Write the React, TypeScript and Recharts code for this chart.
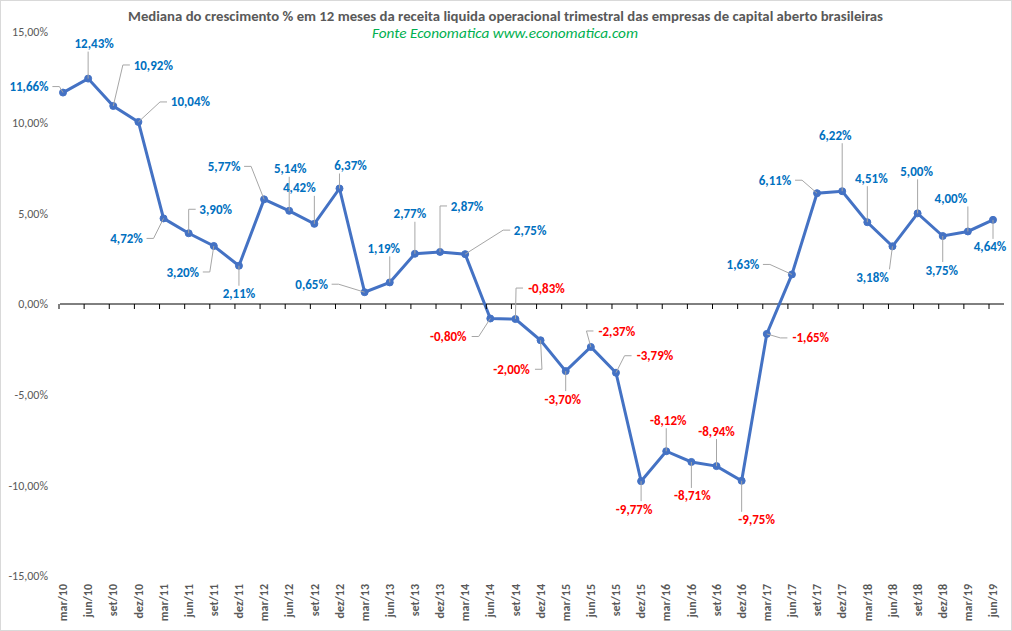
import { LineChart, Line, XAxis, YAxis, ReferenceLine } from 'recharts';

const categories = [
  'mar/10', 'jun/10', 'set/10', 'dez/10',
  'mar/11', 'jun/11', 'set/11', 'dez/11',
  'mar/12', 'jun/12', 'set/12', 'dez/12',
  'mar/13', 'jun/13', 'set/13', 'dez/13',
  'mar/14', 'jun/14', 'set/14', 'dez/14',
  'mar/15', 'jun/15', 'set/15', 'dez/15',
  'mar/16', 'jun/16', 'set/16', 'dez/16',
  'mar/17', 'jun/17', 'set/17', 'dez/17',
  'mar/18', 'jun/18', 'set/18', 'dez/18',
  'mar/19', 'jun/19',
];

const mediana = [
  11.66, 12.43, 10.92, 10.04,
  4.72, 3.9, 3.2, 2.11,
  5.77, 5.14, 4.42, 6.37,
  0.65, 1.19, 2.77, 2.87,
  2.75, -0.8, -0.83, -2.0,
  -3.7, -2.37, -3.79, -9.77,
  -8.12, -8.71, -8.94, -9.75,
  -1.65, 1.63, 6.11, 6.22,
  4.51, 3.18, 5.0, 3.75,
  4.0, 4.64,
];

const yTicks = [-15, -10, -5, 0, 5, 10, 15];

// where each data label sits relative to its point (px), like the moved labels in the original
const labelOffsets: [number, number][] = [
  [-34, -6], [6, -35], [40, -41], [52, -20],
  [-37, 20], [27, -24], [-31, 26], [0, 28],
  [-40, -33], [1, -42], [-15, -36], [11, -23],
  [-53, -8], [-6, -34], [-5, -40], [27, -46],
  [65, -24], [-42, 18], [31, -31], [-29, 29],
  [-3, 28], [26, -16], [39, -17], [-7, 28],
  [2, -31], [1, 34], [0, -35], [15, 39],
  [44, 4], [-49, -10], [-42, -13], [-7, -56],
  [4, -44], [-20, 31], [-1, -42], [-1, 34],
  [-17, -33], [-3, 27],
];

const data = categories.map((c, i) => ({ cat: c, v: mediana[i] }));

const W = 1012;
const H = 631;
const TOP = 32;
const XAXIS_H = 55;
const ZERO_Y = TOP + (H - XAXIS_H - TOP) / 2;
const FONT = 'Carlito, Calibri, "Liberation Sans Narrow", "Liberation Sans", sans-serif';

const pct = (v: number) => v.toFixed(2).replace('.', ',') + '%';

const CatTick = (props: any) => {
  const { x, payload } = props;
  return (
    <g>
      <line x1={x - 4} x2={x - 4} y1={ZERO_Y} y2={ZERO_Y + 5} stroke='#000' strokeWidth={1} />
      <text
        x={x}
        y={584}
        transform={`rotate(-90, ${x}, 584)`}
        textAnchor='end'
        dy='0.35em'
        fontFamily={FONT}
        fontWeight='bold'
        fontSize={12}
        fill='#595959'
      >
        {payload.value}
      </text>
    </g>
  );
};

const renderLabel = (props: any) => {
  const { x, y, index, value } = props;
  const [dx, dy] = labelOffsets[index];
  const cx = x + dx;
  const cy = y + dy;
  const text = pct(value);
  const halfW = text.length * 3.4;
  const halfH = 7;
  let d = '';
  if (Math.abs(dx) > halfW + 4) {
    const side = dx > 0 ? -1 : 1;
    const ex = cx + side * (halfW + 3);
    const elbow = ex + side * 7;
    d = `M${x},${y}L${elbow},${cy}L${ex},${cy}`;
  } else if (Math.abs(dy) > halfH + 6) {
    const ey = dy > 0 ? cy - halfH - 1 : cy + halfH + 1;
    const ex = Math.max(cx - halfW, Math.min(cx + halfW, x));
    d = `M${x},${y}L${ex},${ey}`;
  }
  return (
    <g key={`lbl-${index}`}>
      {d && <path d={d} stroke='#A6A6A6' strokeWidth={1} fill='none' />}
      <text
        x={cx}
        y={cy}
        dy='0.35em'
        textAnchor='middle'
        fontFamily={FONT}
        fontWeight='bold'
        fontSize={13}
        fill={value < 0 ? '#FF0000' : '#0070C0'}
      >
        {text}
      </text>
    </g>
  );
};

export default function App() {
  return (
    <div style={{ position: 'absolute', left: 0, top: 0, width: W, height: H, background: '#fff' }}>
      <LineChart width={W} height={H} data={data} margin={{ top: TOP, right: 8, left: 0, bottom: 0 }}>
        <XAxis
          dataKey='cat'
          height={XAXIS_H}
          axisLine={false}
          tickLine={false}
          interval={0}
          padding={{ left: 3, right: 11 }}
          tick={<CatTick />}
        />
        <YAxis
          width={60}
          domain={[-15, 15]}
          ticks={yTicks}
          axisLine={false}
          tickLine={false}
          tickSize={0}
          tickMargin={12}
          tickFormatter={pct}
          tick={{ fill: '#595959', fontSize: 12, fontFamily: FONT }}
        />
        <ReferenceLine y={0} stroke='#000' strokeWidth={1} />
        <Line
          type='linear'
          dataKey='v'
          stroke='#4472C4'
          strokeWidth={3}
          dot={{ r: 3.5, fill: '#4472C4', stroke: '#4472C4', strokeWidth: 1 }}
          activeDot={false}
          label={renderLabel}
          isAnimationActive={false}
        />
      </LineChart>
      <svg width={W} height={50} style={{ position: 'absolute', left: 0, top: 0, pointerEvents: 'none' }}>
        <text
          x={505.5}
          y={21}
          textAnchor='middle'
          fontFamily={FONT}
          fontWeight='bold'
          fontSize={14}
          fill='#595959'
          textLength={755}
          lengthAdjust='spacingAndGlyphs'
        >
          Mediana do crescimento % em 12 meses da receita liquida operacional trimestral das  empresas de capital aberto brasileiras
        </text>
        <text
          x={505}
          y={38}
          textAnchor='middle'
          fontFamily={FONT}
          fontStyle='italic'
          fontSize={14}
          fill='#00B050'
          textLength={266}
          lengthAdjust='spacingAndGlyphs'
        >
          Fonte Economatica www.economatica.com
        </text>
      </svg>
      <div
        style={{
          position: 'absolute',
          left: 0,
          top: 0,
          width: W,
          height: H,
          boxSizing: 'border-box',
          border: '1px solid #D9D9D9',
          pointerEvents: 'none',
        }}
      />
    </div>
  );
}
